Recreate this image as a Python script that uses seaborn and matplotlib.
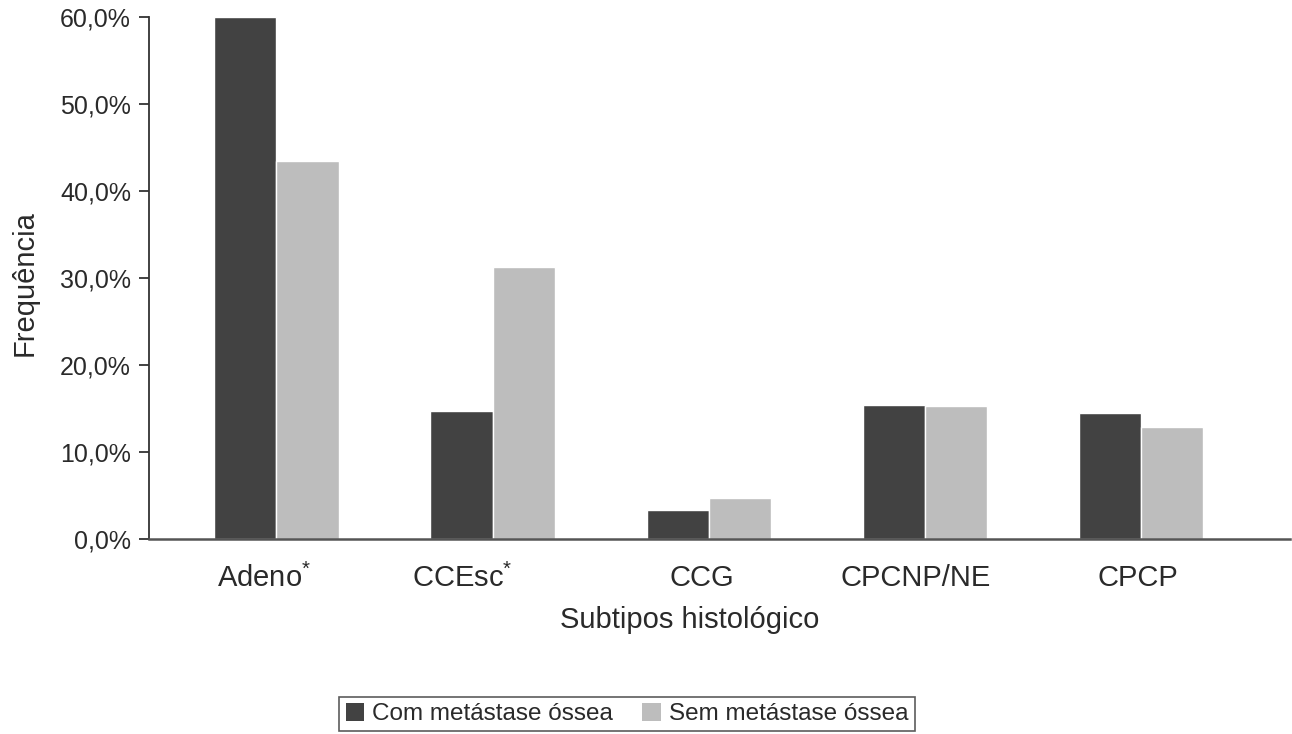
import matplotlib
matplotlib.use("Agg")
import matplotlib.pyplot as plt
import matplotlib.transforms as mtransforms
import pandas as pd
import seaborn as sns

# data (percent)
subtypes = ["Adeno$^{*}$", "CCEsc$^{*}$", "CCG", "CPCNP/NE", "CPCP"]
com_metastase = [60.0, 14.7, 3.3, 15.4, 14.5]
sem_metastase = [43.4, 31.3, 4.7, 15.3, 12.9]
groups = ["Com metástase óssea", "Sem metástase óssea"]
y_ticks = [0, 10, 20, 30, 40, 50, 60]
y_tick_labels = ["0,0%", "10,0%", "20,0%", "30,0%", "40,0%", "50,0%", "60,0%"]

df = pd.DataFrame({
    "Subtipo": subtypes * 2,
    "Frequencia": com_metastase + sem_metastase,
    "Grupo": [groups[0]] * len(subtypes) + [groups[1]] * len(subtypes),
})

sns.set_style("white")
plt.rcParams["font.family"] = ["Liberation Sans", "DejaVu Sans"]
plt.rcParams["mathtext.fontset"] = "custom"
plt.rcParams["mathtext.rm"] = "Liberation Sans"
plt.rcParams["mathtext.default"] = "regular"
text_color = "#2a2a2a"
colors = ["#424242", "#bdbdbd"]

fig = plt.figure(figsize=(12.92, 7.34), dpi=100)
ax = fig.add_axes([0.1153, 0.2657, 0.8832, 0.7111])

sns.barplot(
    data=df,
    x="Subtipo",
    y="Frequencia",
    hue="Grupo",
    palette=colors,
    width=0.575,
    gap=0,
    saturation=1,
    legend=False,
    ax=ax,
)

ax.set_ylim(0, 60)
ax.set_xlim(-0.59, 4.69)
ax.set_yticks(y_ticks)
ax.set_yticklabels(y_tick_labels)

sns.despine(ax=ax)
ax.spines["left"].set_color("#333333")
ax.spines["bottom"].set_color("#555555")
ax.spines["left"].set_linewidth(1.3)
ax.spines["bottom"].set_linewidth(1.8)

ax.tick_params(axis="y", which="both", left=True, length=7, width=1.3,
               color="#333333", labelsize=18, labelcolor=text_color, pad=6)
ax.tick_params(axis="x", bottom=False, length=0, labelsize=21,
               labelcolor=text_color, pad=18)

# the original labels sit slightly left of their bar pairs
label_shift_px = [-12, -30, -7, -9, -3]
for lab, dx in zip(ax.get_xticklabels(), label_shift_px):
    lab.set_transform(lab.get_transform() +
                      mtransforms.Affine2D().translate(dx, 0))

ax.set_xlabel("Subtipos histológico", fontsize=21, color=text_color, va="center")
ax.xaxis.set_label_coords(0.474, -0.155)
ax.set_ylabel("Frequência", fontsize=21, color=text_color, va="center")
ax.yaxis.set_label_coords(-0.109, 0.49)

handles = [
    plt.Rectangle((0, 0), 1, 1, facecolor=c, edgecolor="none") for c in colors
]
leg = fig.legend(
    handles,
    groups,
    loc="center",
    bbox_to_anchor=(0.4853, 0.027),
    ncol=2,
    frameon=True,
    fancybox=False,
    fontsize=17.5,
    handlelength=0.75,
    handleheight=0.75,
    handletextpad=0.35,
    columnspacing=1.2,
    borderpad=0.25,
    borderaxespad=0,
)
leg.get_frame().set_edgecolor("#333333")
leg.get_frame().set_linewidth(1.2)
for t in leg.get_texts():
    t.set_color(text_color)

fig.savefig("out.png", dpi=100)
